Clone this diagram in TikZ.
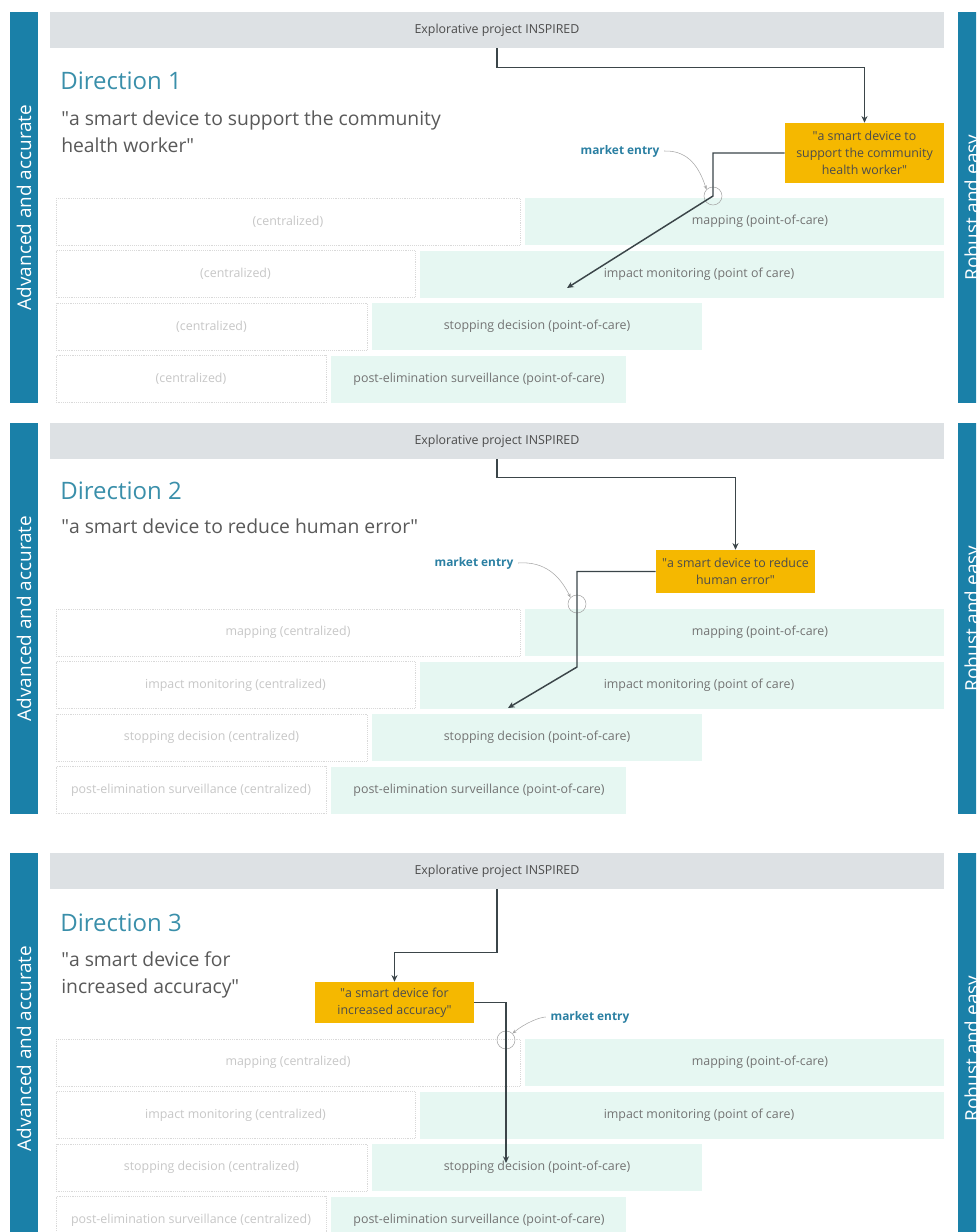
\documentclass[tikz,border=0pt]{standalone}
\usepackage{fontspec}
\setmainfont{Open Sans}
\usetikzlibrary{arrows.meta}

\definecolor{barblue}{HTML}{1A80A8}
\definecolor{hdrgrey}{HTML}{DDE1E4}
\definecolor{pocgreen}{HTML}{E6F7F2}
\definecolor{devyellow}{HTML}{F5B800}
\definecolor{titleblue}{HTML}{3A8FAA}
\definecolor{flowgrey}{HTML}{3B4549}
\definecolor{entryblue}{HTML}{2A7FA2}

\newcommand{\qq}{\textquotedbl}

\begin{document}
\begin{tikzpicture}[x=0.75pt,y=-0.75pt,
    bartext/.style={text=white,rotate=90,font=\fontsize{14.2}{17}\selectfont},
    hdr/.style={fill=hdrgrey,minimum width=670.5pt,minimum height=27pt,inner sep=0,
        text=black!70,font=\fontsize{9.3}{11}\selectfont},
    title/.style={anchor=base west,inner sep=0,text=titleblue,font=\fontsize{18}{22}\selectfont},
    quote/.style={anchor=base west,inner sep=0,align=left,text=black!65,
        font=\fontsize{14.5}{20.25}\selectfont},
    cbox/.style={draw=black!15,densely dotted,fill=white},
    ctext/.style={text=black!22,font=\fontsize{9.3}{11}\selectfont},
    pocbox/.style={fill=pocgreen},
    poctext/.style={text=black!55,font=\fontsize{9.3}{11}\selectfont},
    device/.style={fill=devyellow,align=center,inner sep=0,text=black!70,
        minimum width=119.25pt,font=\fontsize{9.3}{12.75}\selectfont},
    flow/.style={draw=flowgrey,line width=1.1pt,-{Stealth[length=5pt,width=4.5pt]}},
    entry/.style={circle,draw=gray!70,thin,minimum size=13.5pt,inner sep=0},
    entrylabel/.style={text=entryblue,font=\bfseries\fontsize{8.9}{10}\selectfont},
    entryarrow/.style={draw=gray!70,thin,-{Stealth[length=3pt,width=2.5pt]}}]

\useasboundingbox (0,0) rectangle (976,1232);
\clip (0,0) rectangle (976,1232);

\foreach \p/\off in {1/0,2/411,3/841}{
  \begin{scope}[shift={(0,\off)}]
    \fill[barblue] (10,12) rectangle (38,403);
    \node[bartext] at (24,207.5) {Advanced and accurate};
    \fill[barblue] (958,12) rectangle (992,403);
    \node[bartext] at (974,207.5) {Robust and easy};
    \node[hdr] (hdr\p) at (497,30) {Explorative project INSPIRED};
    \foreach \i/\t/\s/\e/\tx/\task/\poc in {1/198/523/944/760/mapping/point-of-care,
        2/250.5/418/944/699/impact monitoring/point of care,
        3/303/370/702/537/stopping decision/point-of-care,
        4/355.5/329/626/479/post-elimination surveillance/point-of-care}{
      \draw[cbox] (56,\t) rectangle ({\s-3},{\t+47});
      \node[ctext] (cen\p-\i) at ({(53+\s)/2},{\t+23.5})
        {\ifnum\p=1 (centralized)\else\task{} (centralized)\fi};
      \fill[pocbox] ({\s+2},\t) rectangle (\e,{\t+47});
      \node[poctext] (poc\p-\i) at (\tx,{\t+23.5}) {\task{} (\poc)};
    }
  \end{scope}
}

\begin{scope}
  \node[title] at (60,89) {Direction 1};
  \node[quote] at (61,152) {\qq a smart device to support the community\\health worker\qq};
  \node[device,minimum height=45pt] (dev1) at (864.5,153)
    {\qq a smart device to\\support the community\\health worker\qq};
  \draw[flow] (hdr1.south) -- ++(0,19) -| (dev1.north);
  \node[entry] (me1) at (713,196) {};
  \coordinate (end1) at (567,288);
  \draw[flow] (dev1.west) -| (me1.center) -- (end1);
  \node[entrylabel] (lbl1) at (620,151) {market entry};
  \draw[entryarrow] (lbl1.east) .. controls (690,150) and (700,170) .. (me1.north west);
\end{scope}

\begin{scope}[shift={(0,411)}]
  \node[title] at (60,88) {Direction 2};
  \node[quote] at (61,122) {\qq a smart device to reduce human error\qq};
  \node[device,minimum height=32.25pt] (dev2) at (735.5,160.5)
    {\qq a smart device to reduce\\human error\qq};
  \draw[flow] (hdr2.south) -- ++(0,18) -| (dev2.north);
  \node[entry] (me2) at (577,193) {};
  \coordinate (end2) at (508,297);
  \draw[flow] (dev2.west) -| (me2.center) -- ++(0,63) -- (end2);
  \node[entrylabel] (lbl2) at (474,152) {market entry};
  \draw[entryarrow] (lbl2.east) .. controls (545,150) and (560,165) .. (me2.north west);
\end{scope}

\begin{scope}[shift={(0,841)}]
  \node[title] at (60,90) {Direction 3};
  \node[quote] at (61,152) {\qq a smart device for\\increased accuracy\qq};
  \node[device,minimum height=30.75pt] (dev3) at (394.5,161.5)
    {\qq a smart device for\\increased accuracy\qq};
  \draw[flow] (hdr3.south) -- ++(0,63) -| (dev3.north);
  \node[entry] (me3) at (506,199) {};
  \coordinate (end3) at (506,322);
  \draw[flow] (dev3.east) -| (me3.center) -- (end3);
  \node[entrylabel] (lbl3) at (590,176) {market entry};
  \draw[entryarrow] (lbl3.west) .. controls (540,176) and (525,182) .. (me3.north east);
\end{scope}
\end{tikzpicture}
\end{document}
